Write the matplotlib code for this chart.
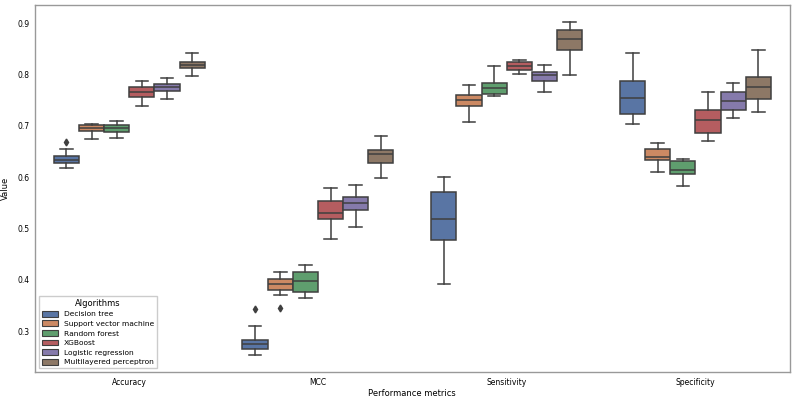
import matplotlib
matplotlib.use('Agg')
import matplotlib.pyplot as plt
import matplotlib.patches as mpatches
import seaborn as sns

# Métricas y algoritmos
metricas = ['Accuracy', 'MCC', 'Sensitivity', 'Specificity']
algoritmos = ['Decision tree', 'Support vector machine', 'Random forest',
              'XGBoost', 'Logistic regression', 'Multilayered perceptron']

# Resumen de cada caja: [bigote inf, Q1, mediana, Q3, bigote sup]
acc = [[0.618, 0.627, 0.634, 0.642, 0.655],
       [0.674, 0.689, 0.695, 0.701, 0.704],
       [0.676, 0.688, 0.695, 0.702, 0.710],
       [0.739, 0.756, 0.765, 0.776, 0.788],
       [0.753, 0.768, 0.775, 0.781, 0.793],
       [0.797, 0.813, 0.819, 0.825, 0.841]]
mcc = [[0.253, 0.265, 0.275, 0.284, 0.311],
       [0.370, 0.381, 0.392, 0.402, 0.416],
       [0.364, 0.377, 0.398, 0.415, 0.430],
       [0.480, 0.518, 0.531, 0.554, 0.579],
       [0.503, 0.536, 0.549, 0.561, 0.584],
       [0.599, 0.628, 0.645, 0.653, 0.681]]
sens = [[0.393, 0.478, 0.518, 0.571, 0.601],
        [0.708, 0.738, 0.751, 0.759, 0.780],
        [0.758, 0.761, 0.773, 0.784, 0.816],
        [0.800, 0.808, 0.817, 0.825, 0.829],
        [0.765, 0.788, 0.798, 0.805, 0.819],
        [0.798, 0.848, 0.869, 0.886, 0.903]]
spec = [[0.703, 0.723, 0.754, 0.788, 0.841],
        [0.611, 0.634, 0.639, 0.655, 0.666],
        [0.582, 0.607, 0.613, 0.631, 0.636],
        [0.671, 0.686, 0.712, 0.730, 0.765],
        [0.716, 0.731, 0.749, 0.766, 0.784],
        [0.727, 0.752, 0.775, 0.795, 0.847]]
resumenes = [acc, mcc, sens, spec]

# Valores atípicos: (métrica, algoritmo, valor)
atipicos = [(0, 0, 0.669), (1, 0, 0.343), (1, 1, 0.346)]

colores = [sns.desaturate(c, 0.75) for c in sns.color_palette('deep', 6)]
gris = '#3f3f3f'

fig = plt.figure(figsize=(7.93, 4.01), dpi=100)
ax = fig.add_axes([0.044, 0.072, 0.952, 0.916])

ancho = 0.8 / len(algoritmos)
for i, resumen in enumerate(resumenes):
    for j, (lo, q1, med, q3, hi) in enumerate(resumen):
        fl = [v for (m, a, v) in atipicos if m == i and a == j]
        stats = [dict(whislo=lo, q1=q1, med=med, q3=q3, whishi=hi, fliers=fl)]
        pos = i + (j - 2.5) * ancho
        ax.bxp(stats, positions=[pos], widths=ancho, patch_artist=True,
               boxprops=dict(facecolor=colores[j], edgecolor=gris, linewidth=1.1),
               medianprops=dict(color=gris, linewidth=1.1),
               whiskerprops=dict(color=gris, linewidth=1.1),
               capprops=dict(color=gris, linewidth=1.1),
               flierprops=dict(marker='d', markerfacecolor=gris, markeredgecolor=gris,
                               markersize=3.5))

ax.set_xlim(-0.5, len(metricas) - 0.5)
ax.set_xticks(range(len(metricas)))
ax.set_xticklabels(metricas)
ax.set_yticks([0.3, 0.4, 0.5, 0.6, 0.7, 0.8, 0.9])
ax.set_yticklabels(['0.3', '0.4', '0.5', '0.6', '0.7', '0.8', '0.9'])
ax.tick_params(length=0, labelsize=5.5, pad=4)
ax.set_xlabel('Performance metrics', fontsize=6, labelpad=2)
ax.set_ylabel('Value', fontsize=6, labelpad=5)
for s in ax.spines.values():
    s.set_color('#999999')
    s.set_linewidth(1.0)

handles = [mpatches.Patch(facecolor=colores[j], edgecolor=gris, linewidth=0.8, label=a)
           for j, a in enumerate(algoritmos)]
leg = ax.legend(handles=handles, title='Algorithms', loc='lower left', fontsize=5.4,
                title_fontsize=6, handlelength=2.2, handleheight=0.8,
                labelspacing=0.42, borderpad=0.4, framealpha=1, fancybox=False)
leg.get_frame().set_edgecolor('#cccccc')

plt.savefig('out.png', dpi=100)
